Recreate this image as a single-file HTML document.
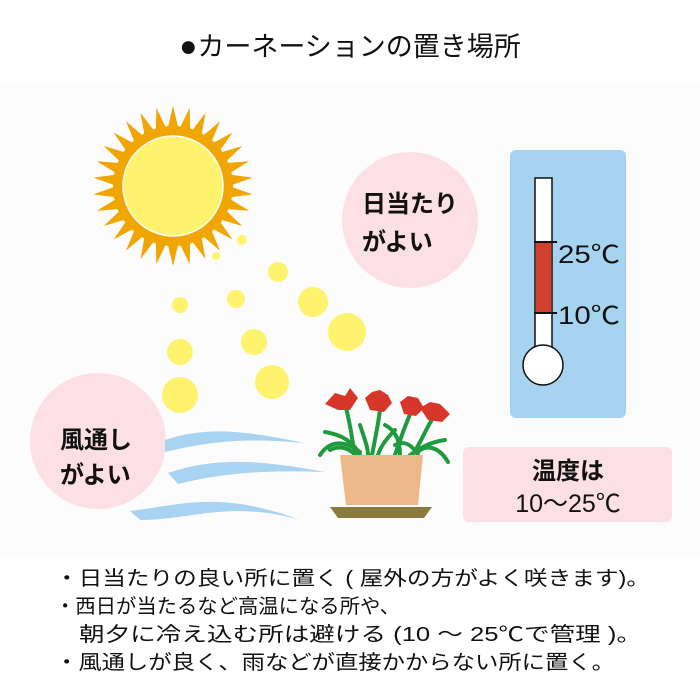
<!DOCTYPE html>
<html><head><meta charset="utf-8"><style>
html,body{margin:0;padding:0;background:#fff;}
svg{display:block;font-family:"Liberation Sans","Noto Sans CJK JP",sans-serif;}
</style></head><body>
<svg width="700" height="700" viewBox="0 0 700 700" xmlns="http://www.w3.org/2000/svg">
<rect x="0" y="85" width="700" height="470" fill="#fcfcfc"/>
<text x="350" y="56" font-size="27" text-anchor="middle" fill="#111"><tspan font-size="30">●</tspan>カーネーションの置き場所</text>

<defs><polygon id="ray" points="-6,-55 6,-55 0,-80" fill="#f0a500"/></defs>
<g transform="translate(173,186)">
<circle r="60" fill="#f0a500"/>
<use href="#ray" transform="rotate(0)"/><use href="#ray" transform="rotate(12)"/><use href="#ray" transform="rotate(24)"/><use href="#ray" transform="rotate(36)"/><use href="#ray" transform="rotate(48)"/><use href="#ray" transform="rotate(60)"/><use href="#ray" transform="rotate(72)"/><use href="#ray" transform="rotate(84)"/><use href="#ray" transform="rotate(96)"/><use href="#ray" transform="rotate(108)"/><use href="#ray" transform="rotate(120)"/><use href="#ray" transform="rotate(132)"/><use href="#ray" transform="rotate(144)"/><use href="#ray" transform="rotate(156)"/><use href="#ray" transform="rotate(168)"/><use href="#ray" transform="rotate(180)"/><use href="#ray" transform="rotate(192)"/><use href="#ray" transform="rotate(204)"/><use href="#ray" transform="rotate(216)"/><use href="#ray" transform="rotate(228)"/><use href="#ray" transform="rotate(240)"/><use href="#ray" transform="rotate(252)"/><use href="#ray" transform="rotate(264)"/><use href="#ray" transform="rotate(276)"/><use href="#ray" transform="rotate(288)"/><use href="#ray" transform="rotate(300)"/><use href="#ray" transform="rotate(312)"/><use href="#ray" transform="rotate(324)"/><use href="#ray" transform="rotate(336)"/><use href="#ray" transform="rotate(348)"/>
<circle r="50" fill="#fff36e" stroke="#fff" stroke-width="1.5"/>
</g>

<g fill="#fff36e">
<circle cx="242" cy="240" r="5"/><circle cx="216" cy="256" r="4"/>
<circle cx="278" cy="272" r="10"/><circle cx="180" cy="305" r="8"/>
<circle cx="236" cy="299" r="9"/><circle cx="313" cy="302" r="15"/>
<circle cx="347" cy="332" r="19"/><circle cx="180" cy="352" r="13"/>
<circle cx="254" cy="342" r="13"/><circle cx="180" cy="395" r="18"/>
<circle cx="272" cy="382" r="17"/>
</g>

<ellipse cx="410" cy="220" rx="68" ry="68" fill="#fde0e6"/>
<text x="362" y="212" font-size="24" font-weight="bold" fill="#111">日当たり</text>
<text x="362" y="250" font-size="24" font-weight="bold" fill="#111">がよい</text>

<ellipse cx="98" cy="441" rx="68" ry="68" fill="#fde0e6"/>

<g fill="#a8d4f2">
<path d="M165,440 C210,425 250,432 305,443 C250,438 215,440 165,452 Z"/>
<path d="M168,473 C220,455 270,462 325,472 C270,470 225,472 178,484 Z"/>
<path d="M130,511 C180,505 220,490 300,520 C230,500 190,520 140,520 Z"/>
</g>
<text x="60" y="448" font-size="24" font-weight="bold" fill="#111">風通し</text>
<text x="60" y="483" font-size="24" font-weight="bold" fill="#111">がよい</text>

<rect x="510" y="150" width="116" height="268" rx="6" fill="#a5d3f0"/>
<rect x="535" y="178" width="17" height="175" fill="#fff" stroke="#111" stroke-width="1.5"/>
<circle cx="543" cy="365" r="20" fill="#fff" stroke="#111" stroke-width="1.5"/>
<rect x="536" y="350" width="15" height="8" fill="#fff"/>
<rect x="535.8" y="242" width="15.5" height="71" fill="#d2402d"/>
<line x1="534" y1="242" x2="557" y2="242" stroke="#111" stroke-width="2"/>
<line x1="534" y1="313" x2="557" y2="313" stroke="#111" stroke-width="2"/>
<text x="558" y="263" font-size="25" fill="#111" textLength="62" lengthAdjust="spacingAndGlyphs">25℃</text>
<text x="558" y="324" font-size="25" fill="#111" textLength="62" lengthAdjust="spacingAndGlyphs">10℃</text>

<rect x="463" y="447" width="209" height="75" rx="6" fill="#fde0e6"/>
<text x="568" y="479" font-size="24" font-weight="bold" text-anchor="middle" fill="#111">温度は</text>
<text x="568" y="512" font-size="25" text-anchor="middle" fill="#111">10～25℃</text>

<polygon points="330,507 432,507 424,518 338,518" fill="#8a7b3c"/>
<g stroke="#1f9a3c" stroke-width="4" fill="none" stroke-linecap="round">
<path d="M345,405 C350,420 352,440 355,455"/>
<path d="M380,410 C378,425 375,440 372,455"/>
<path d="M412,410 C405,425 400,440 395,455"/>
<path d="M433,418 C425,430 420,445 412,455"/>
<path d="M320,455 C330,440 345,440 360,452"/>
<path d="M325,432 C345,435 355,445 360,455"/>
<path d="M395,430 C385,440 380,448 378,455"/>
<path d="M445,440 C430,442 420,448 410,455"/>
<path d="M448,462 C438,445 425,445 418,452"/>
<path d="M360,425 C365,440 368,448 368,455"/>
<path d="M330,450 C340,445 350,448 356,456"/>
<path d="M395,445 C405,440 412,445 418,455"/>
<path d="M385,425 C395,430 400,440 400,455"/>
</g>
<polygon points="340,455 423,455 418,505 346,505" fill="#ecb88a"/>
<g fill="#d8362a">
<polygon points="325,404 335,393 345,396 350,388 358,398 350,410 338,410"/>
<polygon points="365,398 372,392 380,390 388,395 392,403 384,412 370,410"/>
<polygon points="400,402 408,396 418,398 424,408 416,416 404,414"/>
<polygon points="420,408 430,402 440,404 450,414 442,422 428,420"/>
</g>

<g font-size="20" fill="#111">
<text x="55" y="585" textLength="595" lengthAdjust="spacingAndGlyphs">・日当たりの良い所に置く ( 屋外の方がよく咲きます)。</text>
<text x="55" y="613" textLength="345" lengthAdjust="spacingAndGlyphs">・西日が当たるなど高温になる所や、</text>
<text x="79" y="641" textLength="563" lengthAdjust="spacingAndGlyphs">朝夕に冷え込む所は避ける (10 ～ 25℃で管理 )。</text>
<text x="55" y="669" textLength="560" lengthAdjust="spacingAndGlyphs">・風通しが良く、雨などが直接かからない所に置く。</text>
</g>
</svg>
</body></html>
